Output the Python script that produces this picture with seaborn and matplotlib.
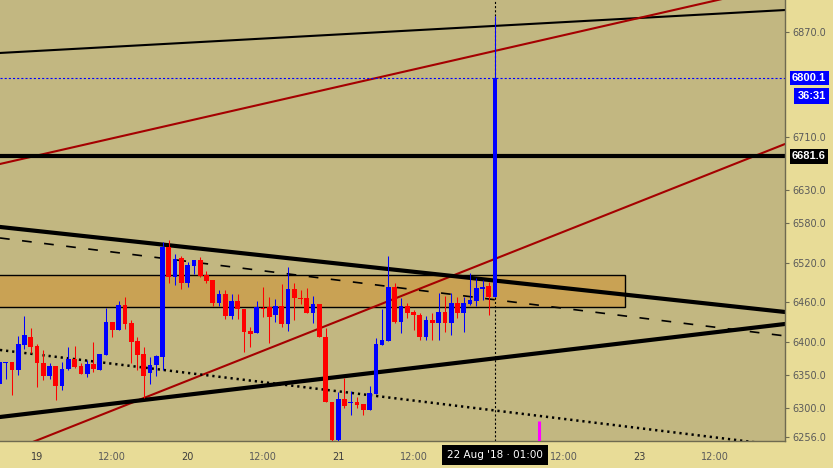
import matplotlib
matplotlib.use("Agg")
import matplotlib.pyplot as plt
import matplotlib.transforms as mtransforms
from matplotlib.patches import Rectangle
import seaborn as sns
import pandas as pd
import numpy as np

# hourly candles, 18 Aug 18:00 .. 22 Aug 01:00
times = pd.date_range("2018-08-18 18:00", "2018-08-22 01:00", freq="h")
opens = [6336.2, 6368.0, 6369.5, 6357.4, 6395.3, 6407.4, 6393.8, 6368.0, 6348.3, 6363.4,
         6333.1, 6358.9, 6374.1, 6363.4, 6351.3, 6366.5, 6357.4, 6380.1, 6430.1, 6418.0,
         6455.9, 6428.6, 6401.3, 6381.6, 6352.8, 6365.0, 6377.1, 6543.8, 6498.4, 6527.2,
         6489.3, 6515.0, 6524.1, 6501.4, 6493.8, 6459.0, 6472.6, 6439.2, 6462.0, 6449.9,
         6416.5, 6413.5, 6451.4, 6452.9, 6440.8, 6454.4, 6427.1, 6480.2, 6466.5, 6466.5,
         6443.8, 6457.4, 6407.4, 6308.9, 6251.3, 6313.4, 6307.3, 6308.9, 6305.8, 6296.7,
         6321.0, 6395.3, 6401.3, 6483.2, 6430.1, 6454.4, 6445.3, 6440.8, 6407.4, 6433.2,
         6428.6, 6445.3, 6428.6, 6459.0, 6443.8, 6457.4, 6462.0, 6480.2, 6484.7, 6468.0]
highs = [6372.5, 6369.5, 6369.5, 6408.9, 6439.2, 6421.1, 6396.8, 6387.7, 6368.0, 6363.4,
         6369.5, 6392.2, 6393.8, 6368.0, 6372.5, 6399.8, 6381.6, 6451.4, 6430.1, 6462.0,
         6468.0, 6433.2, 6407.4, 6392.2, 6377.1, 6380.1, 6551.4, 6554.5, 6533.2, 6530.2,
         6521.1, 6524.1, 6528.7, 6507.5, 6493.8, 6478.7, 6478.7, 6472.6, 6472.6, 6449.9,
         6422.6, 6462.0, 6483.2, 6468.0, 6465.0, 6487.8, 6513.5, 6489.3, 6478.7, 6481.7,
         6469.6, 6457.4, 6421.1, 6308.9, 6324.0, 6345.3, 6325.5, 6316.4, 6305.8, 6333.1,
         6405.9, 6449.9, 6530.2, 6489.3, 6466.5, 6459.0, 6448.3, 6443.8, 6439.2, 6443.8,
         6474.1, 6469.6, 6474.1, 6468.0, 6468.0, 6504.4, 6496.9, 6493.8, 6490.8, 6894.0]
lows = [6333.1, 6343.7, 6319.5, 6349.8, 6389.2, 6383.2, 6331.6, 6342.2, 6343.7, 6311.9,
        6327.1, 6357.4, 6360.4, 6351.3, 6346.8, 6354.3, 6357.4, 6380.1, 6407.4, 6418.0,
        6419.5, 6368.0, 6357.4, 6314.9, 6336.2, 6348.3, 6357.4, 6489.3, 6486.2, 6480.2,
        6483.2, 6502.9, 6498.4, 6489.3, 6454.4, 6454.4, 6434.7, 6434.7, 6434.7, 6384.7,
        6392.2, 6413.5, 6437.7, 6398.3, 6430.1, 6422.6, 6416.5, 6433.2, 6457.4, 6443.8,
        6428.6, 6407.4, 6308.9, 6248.2, 6248.2, 6299.8, 6289.2, 6299.8, 6289.2, 6296.7,
        6321.0, 6395.3, 6401.3, 6428.6, 6413.5, 6436.2, 6418.0, 6402.9, 6402.9, 6402.9,
        6402.9, 6415.0, 6410.4, 6436.2, 6415.0, 6455.9, 6454.4, 6463.5, 6440.8, 6468.0]
closes = [6369.5, 6369.5, 6357.4, 6396.8, 6410.4, 6392.2, 6368.0, 6348.3, 6363.4, 6333.1,
          6358.9, 6374.1, 6361.9, 6351.3, 6366.5, 6358.9, 6381.6, 6430.1, 6418.0, 6455.9,
          6427.1, 6399.8, 6380.1, 6348.3, 6365.0, 6378.6, 6543.8, 6498.4, 6525.7, 6489.3,
          6516.6, 6524.1, 6499.9, 6492.3, 6459.0, 6472.6, 6439.2, 6462.0, 6449.9, 6415.0,
          6412.0, 6452.9, 6449.9, 6437.7, 6454.4, 6427.1, 6480.2, 6466.5, 6465.0, 6443.8,
          6457.4, 6407.4, 6308.9, 6251.3, 6313.4, 6302.8, 6308.9, 6304.3, 6296.7, 6322.5,
          6396.8, 6402.9, 6483.2, 6430.1, 6454.4, 6443.8, 6440.8, 6407.4, 6433.2, 6428.6,
          6445.3, 6428.6, 6459.0, 6443.8, 6459.0, 6463.5, 6481.7, 6483.2, 6468.0, 6800.1]

# drawings: hours from 19 Aug 00:00 -> price
trend_lines = {
    "top":        ((-5.9, 6838.0), (119.2, 6903.1)),
    "red_upper":  ((-5.9, 6669.7), (119.2, 6941.6)),
    "red_lower":  ((-5.9, 6228.5), (119.2, 6700.0)),
    "resistance": ((-5.9, 6574.2), (119.2, 6445.3)),
    "support":    ((-5.9, 6286.1), (119.2, 6427.1)),
    "dashed":     ((-5.9, 6557.5), (119.2, 6409.0)),
    "dotted":     ((-5.9, 6387.7), (119.2, 6242.2)),
}
level_price = 6681.6
last_price = 6800.1
countdown = "36:31"
zone_hours = (-10, 93.7)
zone_prices = (6452.9, 6501.4)
marker_hour = 80
marker_top = 6280.1

price_ticks = [6870.0, 6710.0, 6630.0, 6580.0, 6520.0, 6460.0, 6400.0, 6350.0, 6300.0, 6256.0]
time_ticks = [0, 12, 24, 36, 48, 60, 72, 84, 96, 108]
time_labels = ["19", "12:00", "20", "12:00", "21", "12:00", "", "12:00", "23", "12:00"]
cursor_label = "22 Aug '18 \u00b7 01:00"

# Style
sns.set_style("white")
plt.rcParams['font.family'] = ['DejaVu Sans']
plt.rcParams['lines.scale_dashes'] = False

plot_bg = "#C2B781"
axis_bg = "#E8DC97"
up_col = "#0000FF"
down_col = "#FF0000"
red_line = "#A50000"

fig = plt.figure(figsize=(8.33, 4.68), dpi=100, facecolor=axis_bg)
ax = fig.add_axes([0, 27 / 468, 785 / 833, 441 / 468])
ax.set_facecolor(plot_bg)

t0 = pd.Timestamp("2018-08-19")
df = pd.DataFrame({"t": times, "open": opens, "high": highs, "low": lows, "close": closes})
df["h"] = (df["t"] - t0) / pd.Timedelta(hours=1)
df["up"] = df["close"] >= df["open"]
colors = np.where(df["up"], up_col, down_col)

# zone box
ax.add_patch(Rectangle((zone_hours[0], zone_prices[0]), zone_hours[1] - zone_hours[0],
                       zone_prices[1] - zone_prices[0], facecolor="#C9A254",
                       edgecolor="black", lw=1.0, zorder=1))

styles = {
    "top":        dict(color="black", lw=1.5),
    "red_upper":  dict(color=red_line, lw=1.5),
    "red_lower":  dict(color=red_line, lw=1.5),
    "resistance": dict(color="black", lw=3.0),
    "support":    dict(color="black", lw=3.0),
    "dashed":     dict(color="black", lw=1.2, linestyle=(0, (7, 9))),
    "dotted":     dict(color="black", lw=1.8, linestyle=(0, (1.6, 2.8))),
}
for name, (p0, p1) in trend_lines.items():
    sns.lineplot(x=[p0[0], p1[0]], y=[p0[1], p1[1]], ax=ax, zorder=2, **styles[name])

ax.axhline(level_price, color="black", lw=3.0, zorder=2)
ax.axhline(last_price, color=up_col, lw=0.8, linestyle=(0, (1.5, 1.5)), zorder=2)
ax.axvline(df["h"].iloc[-1], color="black", lw=0.8, linestyle=(0, (1.5, 1.5)), zorder=2)

# candles
ax.vlines(df["h"], df["low"], df["high"], colors=colors, lw=0.75, zorder=3)
body = np.maximum((df["close"] - df["open"]).abs(), 1.5)
ax.bar(df["h"], body, bottom=np.minimum(df["open"], df["close"]), width=0.75,
       color=colors, lw=0, zorder=4)

ax.vlines([marker_hour], 6200, marker_top, colors="#FF00FF", lw=2.2, zorder=4)

ax.set_xlim(-5.9, 119.2)
ax.set_ylim(6249.7, 6918.3)
ax.set_xlabel("")
ax.set_ylabel("")

ax.yaxis.tick_right()
ax.set_yticks(price_ticks)
ax.set_yticklabels([f"{v:.1f}" for v in price_ticks])
ax.set_xticks(time_ticks)
ax.set_xticklabels(time_labels)
ax.tick_params(axis="y", direction="out", length=3, width=0.8, color="#6E6A50",
               labelsize=7, labelcolor="#5A5A5A", pad=2)
ax.tick_params(axis="x", direction="out", length=3, width=0.8, color="#6E6A50",
               labelsize=7, labelcolor="#5A5A5A", pad=5)
for lbl in ax.get_xticklabels():
    if lbl.get_text() in ("19", "20", "21", "23"):
        lbl.set_color("#3C3C3C")

for s in ("left", "top"):
    ax.spines[s].set_visible(False)
for s in ("right", "bottom"):
    ax.spines[s].set_color("#6E6A50")
    ax.spines[s].set_linewidth(1.0)

ytrans = mtransforms.blended_transform_factory(ax.transAxes, ax.transData)
xtrans = mtransforms.blended_transform_factory(ax.transData, ax.transAxes)

box_font = ["Liberation Sans", "DejaVu Sans"]
ax.text(1.009, last_price, f"{last_price:.1f}", transform=ytrans, ha="left", va="center",
        color="white", fontsize=8, fontweight="bold", family=box_font, clip_on=False,
        zorder=10, bbox=dict(boxstyle="square,pad=0.22", fc=up_col, ec="none"))
ax.annotate(countdown, xy=(1.009, last_price), xycoords=ytrans, xytext=(4, -13),
            textcoords="offset points", ha="left", va="center", color="white",
            fontsize=8, fontweight="bold", family=box_font, annotation_clip=False,
            zorder=10, bbox=dict(boxstyle="square,pad=0.3", fc=up_col, ec="none"))
ax.text(1.009, level_price, f"{level_price:.1f}", transform=ytrans, ha="left", va="center",
        color="white", fontsize=8, fontweight="bold", family=box_font, clip_on=False,
        zorder=10, bbox=dict(boxstyle="square,pad=0.22", fc="black", ec="none"))
ax.text(df["h"].iloc[-1], -0.032, cursor_label, transform=xtrans, ha="center", va="center",
        color="white", fontsize=7.5, clip_on=False, zorder=10,
        bbox=dict(boxstyle="square,pad=0.5", fc="black", ec="none"))

fig.savefig("out.png", dpi=100, facecolor=fig.get_facecolor())
